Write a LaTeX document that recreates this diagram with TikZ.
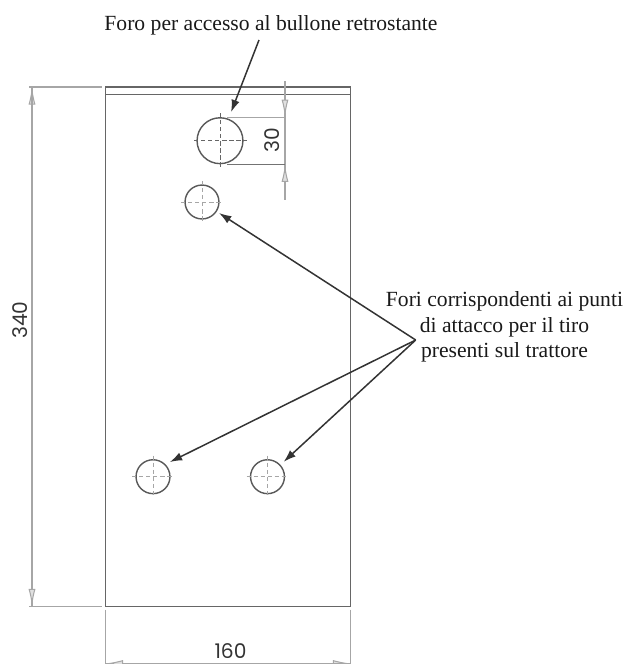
\documentclass[tikz,border=0pt]{standalone}
\usepackage{fontspec}
\setmainfont{Liberation Serif}
\newfontfamily\dimfont{Poppins}
\usepackage{tikz}
\usetikzlibrary{arrows.meta}
\tikzset{ hole/.style = {circle, draw=black!65, line width=0.8pt, inner sep=0pt, minimum size=#1} }
\tikzset{ centre_line/.style = {black!35, line width=0.5pt, dash pattern=on 2.5pt off 1.5pt} }
\tikzset{ plate_line/.style = {black!60, line width=0.8pt} }
\tikzset{ dim_line/.style = {black!35, line width=0.6pt} }
\tikzset{ dim_tip/.style = {dim_line, -{Latex[length=10pt, width=4pt, fill=black!12]}} }
\tikzset{ dim_text/.style = {font=\dimfont\fontsize{11.5pt}{12pt}\selectfont, text=black!80, inner sep=0pt} }
\tikzset{ note/.style = {font=\fontsize{12.3pt}{14.4pt}\selectfont, text=black!90, align=center, inner sep=0pt} }
\tikzset{ pointer/.style = {black!80, line width=0.85pt, -{Latex[length=7pt, width=4.8pt]}} }

\begin{document}
\begin{tikzpicture}[x=0.02cm,y=-0.02cm]
        \useasboundingbox (0,0) rectangle (626,664);
        % plate
        \coordinate (TL) at (105.5,87);
        \coordinate (TR) at (350.5,87);
        \coordinate (BL) at (105.5,606.5);
        \coordinate (BR) at (350.5,606.5);
        \coordinate (SL) at (105.5,94.5);
        \coordinate (SR) at (350.5,94.5);
        \draw[plate_line] (TL) -- (TR) -- (BR) -- (BL) -- cycle;
        \draw[plate_line] (SL) -- (SR);
        % holes
        \node[hole=26.1pt] (big) at (220,140.7) {};
        \node[hole=19.3pt] (upper) at (202,202) {};
        \node[hole=19.3pt] (left) at (153,476.7) {};
        \node[hole=19.3pt] (right) at (267.5,476.7) {};
        % centre lines
        \draw[centre_line, black!60] (194,140.7) -- (247,140.7);
        \draw[centre_line, black!60] (220,113) -- (220,168);
        \foreach \cx/\cy in {202/202, 153/476.7, 267.5/476.7} {
                \draw[centre_line] (\cx-21,\cy) -- (\cx+21,\cy);
                \draw[centre_line] (\cx,\cy-21) -- (\cx,\cy+21);
        }
        % dimension 30
        \coordinate (d30a) at (285,81);
        \coordinate (d30b) at (285,200);
        \coordinate (d30c) at (big.north -| d30a);
        \coordinate (d30d) at (big.south -| d30a);
        \draw[dim_line] (d30a) -- (d30b);
        \draw[dim_line] (big.north) ++(7,0) -- (d30c);
        \draw[dim_line, black!55] (big.south) ++(7,0) -- (d30d);
        \draw[dim_tip] (d30a) ++(0,18) -- (d30c);
        \draw[dim_tip] (d30b) ++(0,-18) -- (d30d);
        \node[dim_text, rotate=90] (n30) at (272,140) {30};
        % dimension 340
        \coordinate (d340a) at (32,87);
        \coordinate (d340b) at (32,606.5);
        \coordinate (e340a) at (102,87);
        \coordinate (e340b) at (102,606.5);
        \draw[dim_line] (29,87) -- (e340a);
        \draw[dim_line] (29,606.5) -- (e340b);
        \draw[dim_tip] (d340b) -- (d340a);
        \draw[dim_tip] (d340a) -- (d340b);
        \node[dim_text, rotate=90] (n340) at (20,320) {340};
        % dimension 160
        \coordinate (d160a) at (105.5,663.5);
        \coordinate (d160b) at (350.5,663.5);
        \draw[dim_line] (BL) ++(0,3) -- (d160a);
        \draw[dim_line] (BR) ++(0,3) -- (d160b);
        \draw[dim_tip] (d160a) -- (d160b);
        \draw[dim_tip] (d160b) -- (d160a);
        \node[dim_text] (n160) at (230.5,651) {160};
        % notes
        \node[note] (foro) at (271,25) {Foro per accesso al bullone retrostante};
        \node[note] (fori) at (504.5,327) {Fori corrispondenti ai punti\\di attacco per il tiro\\presenti sul trattore};
        \coordinate (forotail) at (259,40);
        \coordinate (foritail) at (415.7,340);
        \draw[pointer, shorten >=4pt] (forotail) -- (big);
        \draw[pointer, shorten >=1.5pt] (foritail) -- (upper);
        \draw[pointer, shorten >=2.8pt] (foritail) -- (left.45);
        \draw[pointer, shorten >=2.5pt] (foritail) -- (right);
\end{tikzpicture}
\end{document}
